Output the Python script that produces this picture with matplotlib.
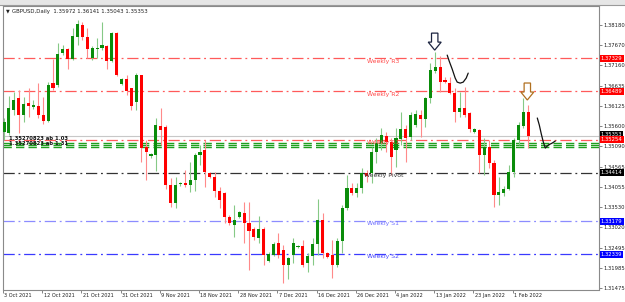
import matplotlib
matplotlib.use('Agg')
import matplotlib.pyplot as plt
import matplotlib.transforms as mtransforms
from matplotlib.patches import Polygon, Rectangle
import numpy as np

# ---------------- data (GBPUSD daily) ----------------
opens = [1.3545, 1.3543, 1.3601, 1.3632, 1.3589, 1.3619, 1.3609, 1.3612, 1.3589, 1.3573,
         1.3670, 1.3665, 1.3747, 1.3757, 1.3731, 1.3788, 1.3818, 1.3788, 1.3734, 1.3757,
         1.3760, 1.3765, 1.3726, 1.3798, 1.3668, 1.3681, 1.3658, 1.3622, 1.3691, 1.3507,
         1.3484, 1.3487, 1.3561, 1.3558, 1.3410, 1.3364, 1.3413, 1.3415, 1.3410, 1.3423,
         1.3487, 1.3499, 1.3441, 1.3431, 1.3395, 1.3390, 1.3329, 1.3308, 1.3329, 1.3339,
         1.3313, 1.3298, 1.3275, 1.3298, 1.3216, 1.3232, 1.3262, 1.3244, 1.3206, 1.3232,
         1.3252, 1.3255, 1.3211, 1.3229, 1.3260, 1.3321, 1.3237, 1.3232, 1.3206, 1.3267,
         1.3351, 1.3402, 1.3390, 1.3402, 1.3441, 1.3441, 1.3494, 1.3517, 1.3535, 1.3520,
         1.3499, 1.3528, 1.3553, 1.3533, 1.3563, 1.3589, 1.3578, 1.3632, 1.3701, 1.3711,
         1.3678, 1.3670, 1.3645, 1.3596, 1.3606, 1.3594, 1.3545, 1.3550, 1.3487, 1.3507,
         1.3466, 1.3385, 1.3390, 1.3400, 1.3443, 1.3525, 1.3561, 1.35972]
highs = [1.3581, 1.3637, 1.3647, 1.3652, 1.3635, 1.3658, 1.3627, 1.3670, 1.3635, 1.3673,
         1.3731, 1.3772, 1.3767, 1.3760, 1.3810, 1.3831, 1.3826, 1.3810, 1.3765, 1.3785,
         1.3826, 1.3767, 1.3800, 1.3800, 1.3683, 1.3691, 1.3658, 1.3696, 1.3691, 1.3525,
         1.3492, 1.3581, 1.3606, 1.3563, 1.3428, 1.3431, 1.3418, 1.3448, 1.3469, 1.3492,
         1.3512, 1.3525, 1.3443, 1.3443, 1.3405, 1.3392, 1.3334, 1.3359, 1.3344, 1.3367,
         1.3367, 1.3303, 1.3331, 1.3303, 1.3239, 1.3265, 1.3288, 1.3257, 1.3227, 1.3275,
         1.3257, 1.3270, 1.3237, 1.3275, 1.3374, 1.3339, 1.3239, 1.3270, 1.3275, 1.3359,
         1.3436, 1.3415, 1.3415, 1.3453, 1.3448, 1.3507, 1.3530, 1.3556, 1.3545, 1.3530,
         1.3556, 1.3596, 1.3563, 1.3596, 1.3601, 1.3601, 1.3635, 1.3721, 1.3749, 1.3739,
         1.3686, 1.3686, 1.3658, 1.3647, 1.3660, 1.3596, 1.3556, 1.3553, 1.3530, 1.3525,
         1.3474, 1.3431, 1.3408, 1.3461, 1.3530, 1.3571, 1.3632, 1.36141]
lows = [1.3525, 1.3538, 1.3589, 1.3543, 1.3571, 1.3584, 1.3604, 1.3581, 1.3566, 1.3571,
        1.3652, 1.3660, 1.3742, 1.3706, 1.3729, 1.3767, 1.3780, 1.3734, 1.3729, 1.3734,
        1.3754, 1.3706, 1.3724, 1.3688, 1.3665, 1.3640, 1.3601, 1.3601, 1.3469, 1.3423,
        1.3479, 1.3446, 1.3512, 1.3400, 1.3354, 1.3351, 1.3408, 1.3405, 1.3392, 1.3395,
        1.3461, 1.3405, 1.3428, 1.3380, 1.3351, 1.3313, 1.3308, 1.3278, 1.3326, 1.3262,
        1.3193, 1.3270, 1.3262, 1.3206, 1.3214, 1.3229, 1.3224, 1.3160, 1.3170, 1.3211,
        1.3250, 1.3201, 1.3188, 1.3206, 1.3232, 1.3224, 1.3224, 1.3173, 1.3201, 1.3237,
        1.3346, 1.3385, 1.3380, 1.3390, 1.3418, 1.3415, 1.3466, 1.3499, 1.3494, 1.3436,
        1.3456, 1.3512, 1.3469, 1.3525, 1.3558, 1.3533, 1.3558, 1.3619, 1.3696, 1.3647,
        1.3670, 1.3642, 1.3571, 1.3584, 1.3584, 1.3545, 1.3543, 1.3441, 1.3436, 1.3453,
        1.3354, 1.3359, 1.3382, 1.3397, 1.3431, 1.3512, 1.3556, 1.35043]
closes = [1.3571, 1.3606, 1.3627, 1.3589, 1.3617, 1.3612, 1.3614, 1.3589, 1.3573, 1.3665,
          1.3658, 1.3744, 1.3757, 1.3731, 1.3790, 1.3821, 1.3788, 1.3757, 1.3760, 1.3760,
          1.3767, 1.3726, 1.3798, 1.3691, 1.3681, 1.3650, 1.3612, 1.3691, 1.3504, 1.3494,
          1.3489, 1.3563, 1.3550, 1.3410, 1.3364, 1.3410, 1.3415, 1.3410, 1.3423, 1.3487,
          1.3494, 1.3443, 1.3431, 1.3395, 1.3372, 1.3329, 1.3313, 1.3321, 1.3341, 1.3313,
          1.3293, 1.3278, 1.3298, 1.3232, 1.3234, 1.3260, 1.3232, 1.3206, 1.3224, 1.3262,
          1.3255, 1.3206, 1.3229, 1.3260, 1.3321, 1.3237, 1.3227, 1.3206, 1.3267, 1.3351,
          1.3402, 1.3390, 1.3402, 1.3441, 1.3433, 1.3494, 1.3517, 1.3538, 1.3520, 1.3482,
          1.3530, 1.3553, 1.3530, 1.3589, 1.3591, 1.3578, 1.3632, 1.3703, 1.3711, 1.3673,
          1.3673, 1.3645, 1.3596, 1.3606, 1.3589, 1.3553, 1.3553, 1.3487, 1.3507, 1.3466,
          1.3385, 1.3392, 1.3400, 1.3443, 1.3525, 1.3563, 1.3597, 1.35353]

date_labels = ["3 Oct 2021", "12 Oct 2021", "21 Oct 2021", "31 Oct 2021", "9 Nov 2021",
               "18 Nov 2021", "28 Nov 2021", "7 Dec 2021", "16 Dec 2021", "26 Dec 2021",
               "4 Jan 2022", "13 Jan 2022", "23 Jan 2022", "1 Feb 2022"]
date_label_bars = [0, 8, 16, 24, 32, 40, 48, 56, 64, 72, 80, 88, 96, 104]

price_ticks = [1.38180, 1.37670, 1.37160, 1.36635, 1.36125, 1.35600, 1.35090,
               1.34565, 1.34055, 1.33530, 1.33020, 1.32495, 1.31985, 1.31475]

level_names = ["Weekly R3", "Weekly R2", "Weekly R1", "Weekly Pivot", "Weekly S1", "Weekly S2"]
level_values = [1.37329, 1.36489, 1.35254, 1.34414, 1.33179, 1.32339]
level_colors = ["#ff5a5a", "#ff5a5a", "#ff5a5a", "#333333", "#8c8cff", "#3a3aff"]
name_colors = ["#ff4a4a", "#ff4a4a", "#ff4a4a", "#3a3a3a", "#6f6fff", "#4a4aff"]
label_box_colors = ["#ff0000", "#ff0000", "#ff0000", "#000000", "#0000ff", "#0000ff"]

green_levels = [1.35180, 1.35120, 1.35060]
bid_price = 1.35353
header = "GBPUSD,Daily  1.35972 1.36141 1.35043 1.35353"

# ---------------- figure ----------------
W, H = 625, 302
fig = plt.figure(figsize=(W / 100, H / 100), dpi=100)
fig.patch.set_facecolor("white")
L, R, T, B = 3, 598.5, 5.5, 289.5
ax = fig.add_axes([L / W, 1 - B / H, (R - L) / W, (B - T) / H])
PXX = 4.9          # pixels per bar
PXY = 0.000255     # price per pixel
ax.set_xlim((L - 4) / PXX, (R - 4) / PXX)
ax.set_ylim(1.31475 - (B - 288) * PXY, 1.31475 + (288 - T) * PXY)

n = len(opens)
xs = np.arange(n)
o = np.array(opens); c = np.array(closes); h = np.array(highs); l = np.array(lows)
up = c >= o
bw = 0.62
# wicks
ax.vlines(xs[up], l[up], h[up], color="#86c986", lw=0.8, zorder=3)
ax.vlines(xs[~up], l[~up], h[~up], color="#ff8a8a", lw=0.8, zorder=3)
# bodies
bot = np.minimum(o, c)
hgt = np.maximum(np.abs(c - o), 0.00012)
ax.bar(xs[up], hgt[up], bottom=bot[up], width=bw, color="#0a8c0a", lw=0, zorder=4)
ax.bar(xs[~up], hgt[~up], bottom=bot[~up], width=bw, color="#ff0000", lw=0, zorder=4)

# level lines
dd = (0, (9, 3, 1.5, 3))
for v, col in zip(level_values, level_colors):
    ax.axhline(v, color=col, lw=0.9, ls=dd, zorder=2)
for v in green_levels:
    ax.axhline(v, color="#1fa01f", lw=1.0, ls=(0, (6, 3)), zorder=2)
ax.axhline(bid_price, color="#c8c8c8", lw=0.8, zorder=1)

# level names
name_x = 74.0
for nm, v, col in zip(level_names, level_values, name_colors):
    dx = -0.6 if nm == "Weekly Pivot" else 0.0
    ax.text(name_x + dx, v - 2.8 * PXY, nm, color=col, fontsize=4.4, ha="left",
            va="center", zorder=5)

# right price axis
ax.yaxis.tick_right()
ax.set_yticks(price_ticks)
ax.set_yticklabels([f"{v:.5f}" for v in price_ticks])
ax.tick_params(axis="y", direction="out", length=2, width=0.6, color="#707070",
               labelsize=3.8, pad=1.5, labelcolor="#202020")
ax.set_xticks([b - 0.2 for b in date_label_bars])
ax.set_xticklabels([])
ax.tick_params(axis="x", direction="out", length=2, width=0.6, color="#707070")
trans_x = mtransforms.blended_transform_factory(ax.transData, ax.transAxes)
for b_, txt in zip(date_label_bars, date_labels):
    ax.text(b_ + 0.1, -0.012, txt, transform=trans_x, fontsize=3.6, ha="left",
            va="top", color="#202020")

for sp in ax.spines.values():
    sp.set_color("#8a8a8a"); sp.set_linewidth(0.8)

# highlighted price labels on the right axis
trans_y = mtransforms.blended_transform_factory(ax.transAxes, ax.transData)
ax.text(1.004, bid_price + 1.5 * PXY, f"{bid_price:.5f}", transform=trans_y, fontsize=3.8,
        color="white", ha="left", va="center", clip_on=False, zorder=10,
        bbox=dict(boxstyle="square,pad=0.2", fc="black", ec="none"))
for v, bc in zip(level_values, label_box_colors):
    ax.text(1.004, v, f"{v:.5f}", transform=trans_y, fontsize=3.8, color="white",
            ha="left", va="center", clip_on=False, zorder=11,
            bbox=dict(boxstyle="square,pad=0.2", fc=bc, ec="none"))

# header
fig.text(6 / W, 1 - 11 / H, "\u25BC", fontsize=3.5, color="#202020", va="center")
fig.text(12 / W, 1 - 11 / H, header, fontsize=3.9, color="#202020", va="center")

# overlapped text at left
ax.text(1.0, 1.3529, "1.35270823 ab 1.03", fontsize=3.8, fontweight="bold", color="#111111",
        ha="left", va="center", zorder=6)
ax.text(1.0, 1.3516, "1.35270823 ab 1.31", fontsize=3.8, fontweight="bold", color="#111111",
        ha="left", va="center", zorder=6)

# top tool strip
fig.patches.append(Rectangle((0, 1 - 4.5 / H), 1, 4.5 / H, transform=fig.transFigure,
                             fc="#e6e6e6", ec="none"))
fig.lines.append(plt.Line2D([0, 1], [1 - 4.5 / H] * 2, transform=fig.transFigure,
                            color="#9a9a9a", lw=0.8))

# hollow arrows above the two tops
def down_arrow(i_bar, top_price, gap_px, color):
    cx = i_bar
    tip = top_price + gap_px * PXY
    sx = 3.2 / PXX; hx = 6.5 / PXX
    pts = [(cx - sx, tip + 17 * PXY), (cx + sx, tip + 17 * PXY), (cx + sx, tip + 8 * PXY),
           (cx + hx, tip + 8 * PXY), (cx, tip), (cx - hx, tip + 8 * PXY),
           (cx - sx, tip + 8 * PXY)]
    ax.add_patch(Polygon(pts, closed=True, fc="white", ec=color, lw=0.9, zorder=8))

i_top1 = int(np.argmax(h[80:100])) + 80
down_arrow(i_top1 - 0.1, h[i_top1], 2, "#1c2440")
down_arrow(n - 1 - 0.2, h[n - 1], 5, "#b07020")

# hand-drawn strokes
def stroke(ref_i, ref_p, pts_px):
    xs_ = [ref_i + dx / PXX for dx, dy in pts_px]
    ys_ = [ref_p - dy * PXY for dx, dy in pts_px]
    ax.plot(xs_, ys_, color="#111111", lw=0.9, zorder=9, solid_capstyle="round")

stroke(i_top1, h[i_top1], [(12, 3), (14, 9), (17, 17), (20, 26), (22, 30), (25, 31),
                          (28, 30), (31, 26), (33, 21)])
stroke(n - 1, h[n - 1], [(9, 13), (11, 20), (13, 29), (15, 37), (17, 43), (20, 40),
                        (24, 38), (27, 36)])

fig.savefig("out.png", dpi=100, facecolor="white")
